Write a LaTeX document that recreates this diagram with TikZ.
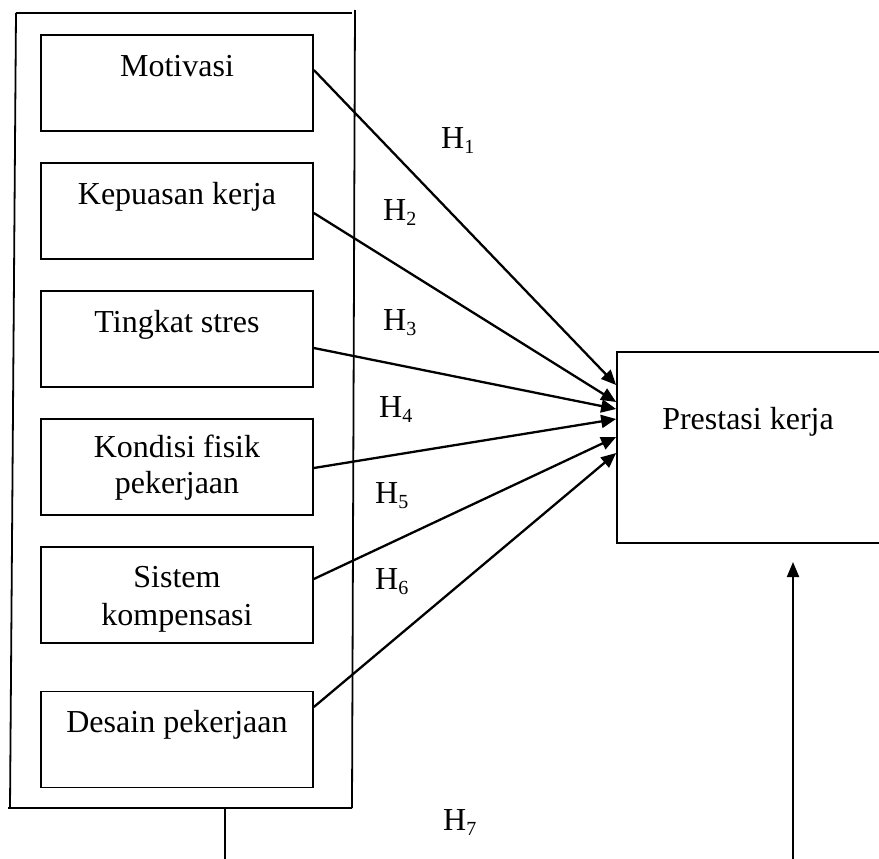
\documentclass[tikz,border=0pt]{standalone}
\usepackage{fontspec}
\setmainfont{Liberation Serif}
\usetikzlibrary{arrows.meta}
\newcommand{\Hs}[1]{H\raisebox{-5pt}{\fontsize{20}{20}\selectfont #1}}
\tikzset{
  vbox/.style={draw, line width=1.7pt, minimum width=272pt, minimum height=96pt, inner sep=0pt},
  txt/.style={anchor=base, inner sep=0pt, font=\fontsize{32}{38}\selectfont},
  hlab/.style={anchor=base west, inner sep=0pt, font=\fontsize{32}{38}\selectfont},
  arr/.style={line width=2.3pt, -{Triangle[length=15pt,width=13pt]}},
  frame/.style={line width=1.8pt},
}
\begin{document}
\begin{tikzpicture}[x=1pt,y=-1pt]
\useasboundingbox (0,0) rectangle (879,859);
% outer frame
\coordinate (o1) at (16,13);
\coordinate (o2) at (352,13);
\coordinate (o3) at (355,10);
\coordinate (o4) at (352,808);
\coordinate (o5) at (8,808);
\coordinate (o6) at (10,808);
\draw[frame] (o1) -- (o2);
\draw[frame] (o3) -- (o4);
\draw[frame] (o5) -- (o4);
\draw[frame] (o1) -- (o6);
% inner boxes
\node[vbox] (m) at (177,83) {};
\node[vbox] (k) at (177,211) {};
\node[vbox] (t) at (177,339) {};
\node[vbox] (f) at (177,467) {};
\node[vbox] (s) at (177,595) {};
\node[vbox] (d) at (177,739.5) {};
\node[txt] (mt) at (177,77) {Motivasi};
\node[txt] (kt) at (177,204) {Kepuasan kerja};
\node[txt] (tt) at (177,332) {Tingkat stres};
\node[txt] (ft1) at (177,457) {Kondisi fisik};
\node[txt] (ft2) at (177,493) {pekerjaan};
\node[txt] (st1) at (177,587) {Sistem};
\node[txt] (st2) at (177,625) {kompensasi};
\node[txt] (dt) at (177,732) {Desain pekerjaan};
% target
\node[draw, line width=1.7pt, minimum width=265pt, minimum height=191pt, inner sep=0pt] (p) at (749.5,447.5) {};
\node[txt] (pt) at (748,429) {Prestasi kerja};
% arrows
\draw[arr] ([yshift=13pt]m.east) -- ([yshift=62.5pt]p.west);
\draw[arr] ([yshift=-2pt]k.east) -- ([yshift=45.5pt]p.west);
\draw[arr] ([yshift=-9pt]t.east) -- ([yshift=38.5pt]p.west);
\draw[arr] ([yshift=-1pt]f.east) -- ([yshift=28.5pt]p.west);
\draw[arr] ([yshift=16pt]s.east) -- ([yshift=10.5pt]p.west);
\draw[arr] ([yshift=32.5pt]d.east) -- ([yshift=-5.5pt]p.west);
% bottom lines
\coordinate (bl1) at (225,808);
\coordinate (bl2) at (225,862);
\draw[line width=1.8pt] (bl1) -- (bl2);
\coordinate (br1) at (793,862);
\coordinate (br2) at (793,562);
\draw[line width=2pt, -{Triangle[length=15pt,width=12pt]}] (br1) -- (br2);
% labels
\node[hlab] (h1) at (441,149) {\Hs{1}};
\node[hlab] (h2) at (383,220) {\Hs{2}};
\node[hlab] (h3) at (383,330) {\Hs{3}};
\node[hlab] (h4) at (379,417) {\Hs{4}};
\node[hlab] (h5) at (375,503) {\Hs{5}};
\node[hlab] (h6) at (375,589) {\Hs{6}};
\node[hlab] (h7) at (443,830) {\Hs{7}};
\end{tikzpicture}
\end{document}
